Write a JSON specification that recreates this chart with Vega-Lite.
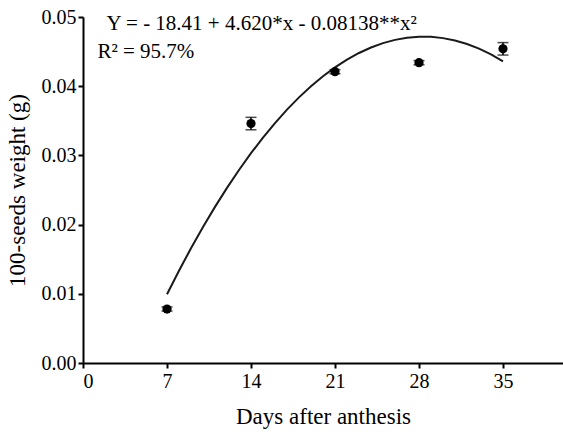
{
  "$schema": "https://vega.github.io/schema/vega-lite/v6.json",
  "autosize": {"type": "none"},
  "width": 480,
  "height": 346,
  "padding": {"left": 83, "top": 17, "right": 0, "bottom": 69},
  "background": "white",
  "config": {
    "view": {"stroke": null},
    "font": "Times New Roman, Liberation Serif, serif",
    "axis": {
      "grid": false,
      "domainColor": "black",
      "domainWidth": 2,
      "tickColor": "black",
      "tickWidth": 2,
      "tickSize": 5,
      "labelFont": "Times New Roman, Liberation Serif, serif",
      "labelFontSize": 20,
      "labelColor": "black",
      "titleFont": "Times New Roman, Liberation Serif, serif",
      "titleFontSize": 23,
      "titleFontWeight": "normal",
      "titleColor": "black"
    }
  },
  "datasets": {
    "means": [
      {"day": 7, "weight": 0.0078, "lo": 0.0075, "hi": 0.0081},
      {"day": 14, "weight": 0.0346, "lo": 0.0337, "hi": 0.0355},
      {"day": 21, "weight": 0.0421, "lo": 0.0418, "hi": 0.0424},
      {"day": 28, "weight": 0.0434, "lo": 0.0431, "hi": 0.0437},
      {"day": 35, "weight": 0.0454, "lo": 0.0445, "hi": 0.0463}
    ],
    "fit": [
      {"day": 7, "weight": 0.009942},
      {"day": 8, "weight": 0.013342},
      {"day": 9, "weight": 0.016578},
      {"day": 10, "weight": 0.019652},
      {"day": 11, "weight": 0.022563},
      {"day": 12, "weight": 0.025311},
      {"day": 13, "weight": 0.027897},
      {"day": 14, "weight": 0.030320},
      {"day": 15, "weight": 0.032580},
      {"day": 16, "weight": 0.034677},
      {"day": 17, "weight": 0.036611},
      {"day": 18, "weight": 0.038383},
      {"day": 19, "weight": 0.039992},
      {"day": 20, "weight": 0.041438},
      {"day": 21, "weight": 0.042721},
      {"day": 22, "weight": 0.043842},
      {"day": 23, "weight": 0.044800},
      {"day": 24, "weight": 0.045595},
      {"day": 25, "weight": 0.046228},
      {"day": 26, "weight": 0.046697},
      {"day": 27, "weight": 0.047004},
      {"day": 28, "weight": 0.047148},
      {"day": 29, "weight": 0.047129},
      {"day": 30, "weight": 0.046948},
      {"day": 31, "weight": 0.046604},
      {"day": 32, "weight": 0.046097},
      {"day": 33, "weight": 0.045427},
      {"day": 34, "weight": 0.044595},
      {"day": 35, "weight": 0.043600}
    ],
    "notes": [
      {"day": 1.95, "weight": 0.0481, "label": "Y =  - 18.41 + 4.620*x - 0.08138**x²"},
      {"day": 1.2, "weight": 0.0441, "label": "R² = 95.7%"}
    ]
  },
  "encoding": {
    "x": {
      "field": "day",
      "type": "quantitative",
      "scale": {"domain": [0, 40], "nice": false, "zero": false},
      "axis": {
        "title": "Days after anthesis",
        "values": [0, 7, 14, 21, 28, 35],
        "labelPadding": 3,
        "titlePadding": 14
      }
    },
    "y": {
      "field": "weight",
      "type": "quantitative",
      "scale": {"domain": [0, 0.05], "nice": false},
      "axis": {
        "title": "100-seeds weight (g)",
        "values": [0, 0.01, 0.02, 0.03, 0.04, 0.05],
        "format": ".2f",
        "labelPadding": 2,
        "titlePadding": 12
      }
    }
  },
  "layer": [
    {
      "data": {"name": "fit"},
      "mark": {"type": "line", "color": "#1a1a1a", "strokeWidth": 2}
    },
    {
      "data": {"name": "means"},
      "mark": {"type": "rule", "color": "black", "strokeWidth": 1.5},
      "encoding": {"y": {"field": "lo", "type": "quantitative"}, "y2": {"field": "hi"}}
    },
    {
      "data": {"name": "means"},
      "mark": {"type": "tick", "orient": "horizontal", "color": "black", "size": 11, "thickness": 1.5},
      "encoding": {"y": {"field": "lo", "type": "quantitative"}}
    },
    {
      "data": {"name": "means"},
      "mark": {"type": "tick", "orient": "horizontal", "color": "black", "size": 11, "thickness": 1.5},
      "encoding": {"y": {"field": "hi", "type": "quantitative"}}
    },
    {
      "data": {"name": "means"},
      "mark": {"type": "circle", "color": "black", "opacity": 1, "size": 85}
    },
    {
      "data": {"name": "notes"},
      "mark": {"type": "text", "align": "left", "baseline": "alphabetic", "fontSize": 21, "color": "black", "font": "Times New Roman, Liberation Serif, serif"},
      "encoding": {"text": {"field": "label"}}
    }
  ]
}
